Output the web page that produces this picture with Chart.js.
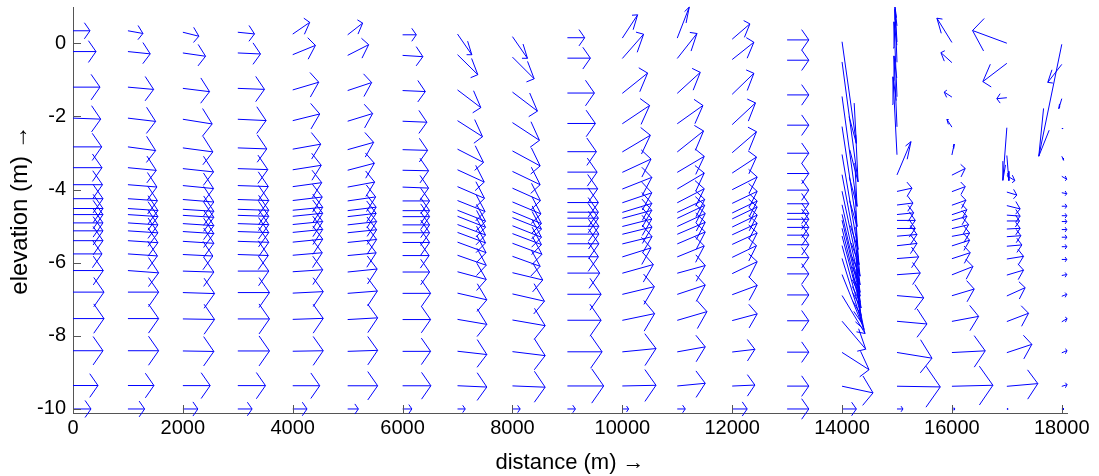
<!DOCTYPE html>
<html><head><meta charset="utf-8">
<script src="https://cdn.jsdelivr.net/npm/chart.js@4.4.1/dist/chart.umd.min.js"></script>
<style>html,body{margin:0;padding:0;background:#fff}#wrap{width:1099px;height:476px;position:relative}</style>
</head><body><div id="wrap"><canvas id="c"></canvas></div>
<script>
// ---- data ----
const distance = [0,1000,2000,3000,4000,5000,6000,7000,8000,9000,10000,11000,12000,13000,14000,15000,16000,17000,18000];
// water level at each station (top computational level), bed at -10 m
const surface = [0.34,0.34,0.30,0.30,0.25,0.23,0.23,0.25,0.18,0.15,0.14,0.14,0.11,0.09,0.04,0.03,0.02,0.0,-0.03];
const bed = -10;
// relative height of the computational levels above the bed (1 = surface, 0 = bed)
const sigma = [1.000,0.945,0.851,0.769,0.693,0.638,0.593,0.556,0.530,0.514,0.492,0.471,0.445,0.410,0.366,0.309,0.239,0.154,0.062,0.0];
// horizontal velocity component per station (rows) and level (columns)
const u = [
 [17,23,27,27.7,28.7,29,29.5,30,30,30,30,30,30,29,30.3,31,31,30,25,18],
 [15,22.3,25.7,27.7,27.7,28.3,29,29.5,30,30,30,30,30,29.5,30.7,30.7,30.7,30.7,26,16.7],
 [16,22.7,26.7,29.3,30,30.7,30.7,31,31,31,31,31,31,30,31,31.7,31.7,31,27.3,15],
 [16.7,22.7,26.7,28.3,29,30,30.5,31,31,31,31,31,31,30.5,31,31.7,31.7,31.7,27.7,14.3],
 [17,22.7,26,27,28,28.5,29,29.5,30,30,30,30,30,29.5,30,30.5,30.5,30.5,27,14.3],
 [15,21,24,25,26,26.7,27,28,28.5,28.5,29,29,29,28.5,29.5,29.7,30,30,30,10.7],
 [13.7,20.3,22.7,24.3,25,26,26,27,27,27,27,27,27,26.5,27,28,28,28,28.3,9.3],
 [14.3,20.3,23.3,25,26,26.7,27,27.5,28,28,28,28,28.5,28.7,28.7,29.3,29.3,29.3,29.3,7.7],
 [15,21.7,25,27,27.7,27.7,28,28.5,29,29,29,29,29.5,27.7,30.3,32,32.7,32.7,32.7,7.7],
 [17.3,23,27,28,29,29.7,30.3,31,31,31,31.5,31.5,31.5,31,32.3,33.7,33.7,34.7,36.3,8],
 [15.3,21.3,25.3,27.3,28,28.7,29.5,29.5,29.5,29.5,29.5,29.7,29.7,28.7,31,32,32.3,33.7,33.7,6.3],
 [12,19.7,23,25.7,26.3,27,27,27,27.5,27.5,28,28,28,27,28,28,29.7,28,28,8],
 [17.7,21.7,21.7,23.3,24.3,24.3,25,25,25,25,25,25,25,24.3,25,25,25,22.7,22.7,15],
 [21.7,21.7,21.7,21.7,21.7,21.7,21.7,21.7,21.7,21.7,21.7,21.7,21.7,21.7,21.7,21.7,21.7,21.7,21.7,21.7],
 [14.3,16,15,15,16,17,18,18,18,18,18,19,19,20,22,23,23.7,27,31,14.3],
 [-2,-2,-3,-3,-4,14,15,16,16.7,18.3,18.3,20,20,21.7,23.3,26.7,30,35,43.3,6],
 [-15,-11,-7.7,-5,2.3,13.3,13.3,14,15,15,16.7,17.7,17.7,18.3,21,22.3,26.7,33.3,41,3],
 [-34.3,-24,-10,-4,2,8,10,13.3,13.3,12.7,13.3,14,15,16.7,16.7,18.3,21.7,25,31,1],
 [-23,-14,-3,1,2,5,5,5,5,5,5,5,5,5,5,5,5.3,5.3,5.3,2]
];
// vertical (exaggerated) velocity component, positive upward
const w = [
 [0,0,0,-1,0,0,0,0,0,0,0,0,0,0,0,0,0,0,0,0],
 [-2.7,-2.3,-2.3,-3.3,-3.7,-2.7,-2.3,-2,-2,-2,-2,-2,-2,-2,-2.3,0,0,0,0,0],
 [-4,-3.3,-3.3,-4.7,-4,-3.3,-3,-2.5,-2,-2,-2,-2,-2,-1.5,-1,-1,-0.5,-0.5,0,0],
 [-1.7,-1,-1,-1.3,-1,-1,-1,-1,-1,-1,-1,-1,-1,-1,0,0,0,0,0,0],
 [11.7,9.3,7.7,6.7,5,4.5,4,3.5,3,3,3,3,3,2.5,2,1.5,1,0.5,0,0],
 [11.7,10.7,8,7.7,7.3,7,5,4,3.5,3.3,3.3,3,3,2.7,3,2.3,1.7,1,0,0],
 [0,-1.3,-1,-1,-0.7,-0.5,-1,0,0,0,0,0,0,0,0,0,0,0,0,0],
 [-20.7,-20,-17.7,-16,-13.3,-12.3,-11.7,-11,-11,-11,-10.5,-10.5,-10.5,-10,-7.7,-6.7,-5,-3.3,-1.3,0],
 [-21.7,-21.7,-19,-17.7,-15,-13.3,-12.5,-12,-12,-11.5,-11.5,-11,-11,-10,-7.3,-7.3,-5.7,-4,-1.3,0],
 [0,0,0,0,0,0,0,0,0,0,0,0,0,0,0,0,0,0,0,0],
 [23.3,24.3,20.3,18.3,16.7,13.3,11.7,10,9,8,7.5,7.3,7.3,9,8.7,7.7,6.7,3.3,0.7,0],
 [31,25,21,18.3,21,16,16,14,13,13,13,12,12,11,7.7,9.3,8.7,5,2.7,0],
 [15.3,17.3,21,21.7,21,16,12.7,12,12,12,12,11.5,11.5,11.7,12,9.3,6.7,2.7,1,0],
 [0,0,0,0,0,0,0,0,0,0,0,0,0,0,0,0,0,0,0,0],
 [-101.7,-120,-110,-100,-95,-90,-85,-80,-78,-76,-74,-72,-70,-65,-55,-38,-28,-17.3,-6.7,0],
 [35,53,75,71,78,33.3,3.3,2,1.7,0,0,1.7,2.3,1.7,1.7,-2.3,-2.7,-5.7,-0.7,0],
 [24.3,10,5,7.7,11,6.7,5,5,5,4.3,4,3.3,5.7,6,8.3,6.7,5,1.7,1,0],
 [12.7,-18.3,-1,-52.7,-25,-5,-3,-3.3,-1,0,0.7,1,1.3,2.7,5,8.3,8.3,8.3,2.7,0],
 [-112,-18,-10,0,-4,-3,-1,0,0,0,0,0,0,0,1,2,3.3,2.3,1.7,0]
];
const xTicks = [0,2000,4000,6000,8000,10000,12000,14000,16000,18000];
const yTicks = [-10,-8,-6,-4,-2,0];

// ---- quiver settings ----
const X_PER_U = 18.2;        // metres of distance per unit of u
const Y_PER_W = 1/36.6;      // metres of elevation per unit of w
const HEAD_ALPHA = 0.33, HEAD_BETA = 0.33, HEAD_ASPECT = 4.35;

function stationPoints(c){
  const pts = [];
  for (let k = 0; k < sigma.length; k++){
    const x0 = distance[c];
    const y0 = bed + sigma[k]*(surface[c]-bed);
    const U = u[c][k], V = w[c][k];
    const a = HEAD_ALPHA, b = HEAD_BETA, r = HEAD_ASPECT;
    const b1u = U - a*(U + b*V/r), b1v = V - a*(V - b*U*r);
    const b2u = U - a*(U - b*V/r), b2v = V - a*(V + b*U*r);
    const P = (du,dv) => ({x: x0 + du*X_PER_U, y: y0 + dv*Y_PER_W});
    pts.push(P(0,0), P(U,V), {x:null,y:null}, P(b1u,b1v), P(U,V), P(b2u,b2v), {x:null,y:null});
  }
  return pts;
}

const FAMILY = "'Liberation Sans', Arial, sans-serif";
const FONT = {family:FAMILY, size:20};
const TITLE_FONT_X = {family:"'Liberation Sans', 'DejaVu Sans', sans-serif", size:22};
const TITLE_FONT_Y = {family:"'Liberation Sans', 'DejaVu Sans', sans-serif", size:24};
const AXIS_COLOR = '#555555';
const ARROW_COLOR = 'rgb(0,0,255)';

const inwardTicks = {
  id:'inwardTicks',
  afterDraw(chart){
    const {ctx, chartArea, scales:{x, y}} = chart;
    ctx.save();
    ctx.strokeStyle = AXIS_COLOR; ctx.lineWidth = 1;
    ctx.beginPath();
    xTicks.forEach(v => { const p = Math.round(x.getPixelForValue(v))+0.5; ctx.moveTo(p, chartArea.bottom); ctx.lineTo(p, chartArea.bottom-8); });
    yTicks.forEach(v => { const p = Math.round(y.getPixelForValue(v))+0.5; ctx.moveTo(chartArea.left, p); ctx.lineTo(chartArea.left+8, p); });
    ctx.stroke();
    ctx.restore();
  }
};

new Chart(document.getElementById('c'), {
  type:'scatter',
  data:{datasets: distance.map((d,c) => ({
    data: stationPoints(c),
    showLine:true, spanGaps:false, borderColor:ARROW_COLOR, backgroundColor:ARROW_COLOR, borderWidth:1,
    pointRadius:0, pointHoverRadius:0, pointBorderWidth:0, tension:0, fill:false, clip:false
  }))},
  options:{
    responsive:true, maintainAspectRatio:false, animation:false,
    events:[],
    layout:{padding:{left:0, right:32, top:7, bottom:0}},
    plugins:{legend:{display:false}, tooltip:{enabled:false}},
    scales:{
      x:{type:'linear', min:0, max:18095,
        afterBuildTicks: s => { s.ticks = xTicks.map(v => ({value:v})); },
        afterFit: s => { s.height = 63; s.paddingLeft = 0; s.paddingRight = 0; },
        grid:{display:false, drawTicks:false},
        border:{display:true, color:AXIS_COLOR, width:1},
        ticks:{font:FONT, color:'#000', padding:3, maxRotation:0, autoSkip:false, callback: v => String(v)},
        title:{display:true, text:'distance (m) →', font:TITLE_FONT_X, color:'#000', padding:{top:0, bottom:0}}
      },
      y:{type:'linear', min:-10.11, max:0.99,
        afterBuildTicks: s => { s.ticks = yTicks.map(v => ({value:v})); },
        afterFit: s => { s.width = 73; s.paddingTop = 0; s.paddingBottom = 0; },
        grid:{display:false, drawTicks:false},
        border:{display:true, color:AXIS_COLOR, width:1},
        ticks:{font:FONT, color:'#000', padding:7, autoSkip:false, callback: v => String(v)},
        title:{display:true, text:'elevation (m) →', font:TITLE_FONT_Y, color:'#000', padding:{top:6, bottom:0}}
      }
    }
  },
  plugins:[inwardTicks]
});
</script>
</body></html>
